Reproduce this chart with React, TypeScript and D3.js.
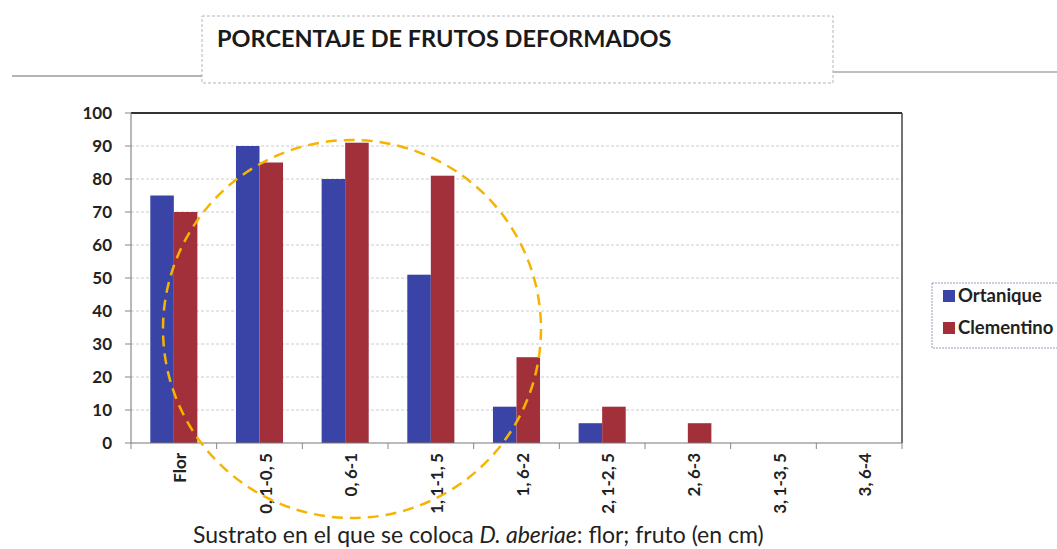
import React from 'react';
import { scaleBand, scaleLinear } from 'd3';

// categorias del eje X y valores de cada serie (porcentaje)
const categories = ['Flor', '0,1-0,5', '0,6-1', '1,1-1,5', '1,6-2', '2,1-2,5', '2,6-3', '3,1-3,5', '3,6-4'];
const ortanique = [75, 90, 80, 51, 11, 6, 0, 0, 0];
const clementino = [70, 85, 91, 81, 26, 11, 6, 0, 0];
const yTicks = [0, 10, 20, 30, 40, 50, 60, 70, 80, 90, 100];
const seriesNames = ['Ortanique', 'Clementino'];

const BLUE = '#3a44a6';
const RED = '#a1303b';
const FONT = 'Lato, "Open Sans", sans-serif';

export default function App() {
  const W = 1057;
  const H = 549;
  const plot = { left: 131, right: 902, top: 113, bottom: 443 };

  const x = scaleBand<string>().domain(categories).range([plot.left, plot.right]);
  // Excel: dos barras juntas con hueco grande entre grupos
  const inner = scaleBand<string>()
    .domain(seriesNames)
    .range([0, x.bandwidth()])
    .paddingInner(0)
    .paddingOuter(0.82);
  const y = scaleLinear().domain([0, 100]).range([plot.bottom, plot.top]);

  const series = [
    { name: 'Ortanique', values: ortanique, color: BLUE },
    { name: 'Clementino', values: clementino, color: RED },
  ];

  return (
    <svg width={W} height={H} style={{ position: 'absolute', left: 0, top: 0, background: '#fff' }}>
      {/* linea del papel escaneado */}
      <line x1={12} x2={202} y1={76} y2={76} stroke="#9a9a9a" strokeWidth={1.5} />
      <line x1={833} x2={W} y1={72} y2={72} stroke="#a8a8a8" strokeWidth={1.5} />

      {/* caja del titulo */}
      <rect x={202} y={16} width={631} height={67} fill="#fff" stroke="#b5b5b5" strokeDasharray="3,2" />
      <text x={217} y={47} fontFamily={FONT} fontWeight={700} fontSize={23.5} fill="#1a1a1a">
        PORCENTAJE DE FRUTOS DEFORMADOS
      </text>

      {/* rejilla */}
      {yTicks.slice(1, -1).map((t) => (
        <line key={t} x1={plot.left} x2={plot.right} y1={y(t)} y2={y(t)} stroke="#cccccc" strokeDasharray="3,2" />
      ))}

      {/* barras */}
      {series.map((s) =>
        categories.map((c, i) =>
          s.values[i] > 0 ? (
            <rect
              key={s.name + c}
              x={(x(c) ?? 0) + (inner(s.name) ?? 0)}
              y={y(s.values[i])}
              width={inner.bandwidth()}
              height={plot.bottom - y(s.values[i])}
              fill={s.color}
            />
          ) : null
        )
      )}

      {/* borde del area */}
      <line x1={plot.left} x2={plot.right} y1={plot.top} y2={plot.top} stroke="#333" strokeWidth={2} />
      <line x1={plot.right} x2={plot.right} y1={plot.top} y2={plot.bottom} stroke="#444" strokeWidth={1.5} />
      <line x1={plot.left} x2={plot.left} y1={plot.top} y2={plot.bottom} stroke="#888" strokeWidth={1.2} />
      <line x1={plot.left} x2={plot.right} y1={plot.bottom} y2={plot.bottom} stroke="#777" strokeWidth={1.2} />

      {/* eje Y */}
      {yTicks.map((t) => (
        <g key={t}>
          <line x1={plot.left - 6} x2={plot.left} y1={y(t)} y2={y(t)} stroke="#888" />
          <text
            x={112}
            y={y(t)}
            dy="0.36em"
            textAnchor="end"
            fontFamily={FONT}
            fontWeight={700}
            fontSize={17}
            fill="#222"
          >
            {t}
          </text>
        </g>
      ))}

      {/* eje X */}
      {categories.map((c) => (
        <line key={'tk' + c} x1={x(c) ?? 0} x2={x(c) ?? 0} y1={plot.bottom} y2={plot.bottom + 6} stroke="#888" />
      ))}
      <line x1={plot.right} x2={plot.right} y1={plot.bottom} y2={plot.bottom + 6} stroke="#888" />
      {categories.map((c) => {
        const cx = (x(c) ?? 0) + x.bandwidth() / 2;
        const parts = c.split(',');
        return (
          <text
            key={'lb' + c}
            transform={`translate(${cx + 12},${plot.bottom + 10}) rotate(-90)`}
            textAnchor="end"
            fontFamily={FONT}
            fontWeight={700}
            fontSize={17}
            fill="#222"
          >
            {parts.map((p, j) => (
              <tspan key={j} dx={j > 0 ? 3.5 : 0}>
                {j < parts.length - 1 ? p + ',' : p}
              </tspan>
            ))}
          </text>
        );
      })}

      <text x={193} y={543} fontFamily={FONT} fontSize={23} fill="#222">
        Sustrato en el que se coloca <tspan fontStyle="italic">D. aberiae</tspan>: flor; fruto (en cm)
      </text>

      {/* leyenda */}
      <rect x={932} y={283} width={140} height={65} fill="#fff" stroke="#9a9ac0" strokeDasharray="2,1" />
      {series.map((s, i) => (
        <g key={s.name}>
          <rect x={943} y={290 + i * 32} width={12} height={12} fill={s.color} />
          <text x={958} y={302 + i * 32} fontFamily={FONT} fontWeight={700} fontSize={18.5} fill="#222">
            {s.name}
          </text>
        </g>
      ))}

      {/* circulo discontinuo amarillo */}
      <ellipse cx={352} cy={329} rx={189} ry={189} fill="none" stroke="#f5b400" strokeWidth={2.5} strokeDasharray="11,7" />
    </svg>
  );
}
